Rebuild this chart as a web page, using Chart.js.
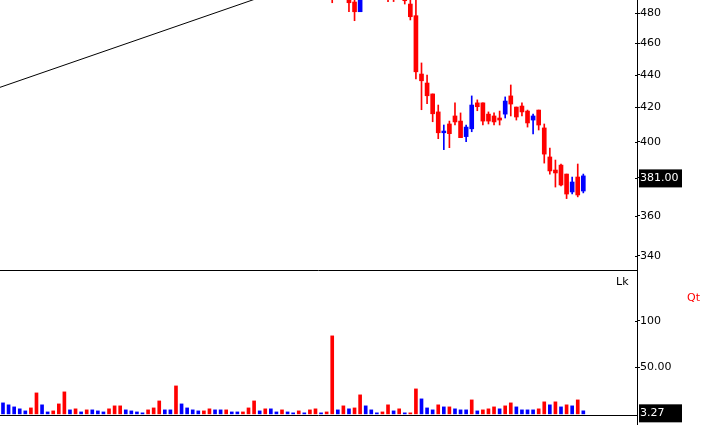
<!DOCTYPE html>
<html><head><meta charset="utf-8">
<script src="https://cdn.jsdelivr.net/npm/chart.js@4/dist/chart.umd.min.js"></script>
<style>
html,body{margin:0;padding:0;background:#fff;overflow:hidden}
#wrap{position:relative;width:727px;height:425px;background:#fff}
#pc{position:absolute;left:0;top:0}
#vc{position:absolute;left:0;top:271px}
</style></head><body>
<div id="wrap">
<canvas id="pc" width="727" height="271"></canvas>
<canvas id="vc" width="727" height="154"></canvas>
</div>
<script>
// ---- data ----
const bars = [1,2,3,4,5,6,7,8,9,10,11,12,13,14,15,16,17,18,19,20,21,22,23,24,25,26,27,28,29,30,
31,32,33,34,35,36,37,38,39,40,41,42,43,44,45,46,47,48,49,50,51,52,53,54,55,56,57,58,59,60,
61,62,63,64,65,66,67,68,69,70,71,72,73,74,75,76,77,78,79,80,81,82,83,84,85,86,87,88,89,90,
91,92,93,94,95,96,97,98,99,100,101,102,103,104,105];

// bars 1-59 lie above the visible price range (not drawn in the reference)
const openP = [null,null,null,null,null,null,null,null,null,null,null,null,null,null,null,null,null,null,null,null,
null,null,null,null,null,null,null,null,null,null,null,null,null,null,null,null,null,null,null,null,
null,null,null,null,null,null,null,null,null,null,null,null,null,null,null,null,null,null,null,
497,null,null,492,487.9,481.2,null,null,null,null,495,494,null,492,486.5,478.5,440.4,434.8,428.1,417.3,
405.1,410.2,414.9,411.9,402.9,407.4,422.7,422.7,416.0,414.9,413.7,416.0,426.9,420.2,420.8,417.8,412.5,418.4,
407.9,391.4,384.2,386.9,382.0,372.4,380.4,372.9];
const highP = [null,null,null,null,null,null,null,null,null,null,null,null,null,null,null,null,null,null,null,null,
null,null,null,null,null,null,null,null,null,null,null,null,null,null,null,null,null,null,null,null,
null,null,null,null,null,null,null,null,null,null,null,null,null,null,null,null,null,null,null,
499,null,null,494,491,495,null,null,null,null,497,496,null,494,491,490.5,447.4,439.8,428.1,421.4,
409.6,411.9,422.7,416.7,409.6,426.9,424.5,422.7,417.3,416.7,417.8,426.3,433.6,420.2,422.7,418.4,416.0,418.4,
410.2,396.4,389.7,387.5,382.0,380.4,387.5,382.0];
const lowP = [null,null,null,null,null,null,null,null,null,null,null,null,null,null,null,null,null,null,null,null,
null,null,null,null,null,null,null,null,null,null,null,null,null,null,null,null,null,null,null,null,
null,null,null,null,null,null,null,null,null,null,null,null,null,null,null,null,null,null,null,
487.4,null,null,481.2,475.1,481.2,null,null,null,null,488.2,488.2,null,486.5,475.6,437.3,418.6,422.2,411.5,401.7,
395.5,396.6,409.6,402.3,400.0,405.7,418.0,409.6,410.2,409.6,409.6,413.7,414.9,412.5,414.9,408.4,404.4,406.7,
388.0,382.0,375.0,375.6,368.9,371.3,369.8,371.9];
const closeP = [null,null,null,null,null,null,null,null,null,null,null,null,null,null,null,null,null,null,null,null,
null,null,null,null,null,null,null,null,null,null,null,null,null,null,null,null,null,null,null,null,
null,null,null,null,null,null,null,null,null,null,null,null,null,null,null,null,null,null,null,
491,null,null,487.4,481.2,493,null,null,null,null,491,490,null,488.8,477.8,441.8,436.2,427.0,416.2,405.1,
406.1,404.6,411.4,402.3,408.4,421.4,420.4,411.9,411.9,411.4,412.5,423.8,422.0,414.3,417.3,410.8,414.9,409.6,
393.0,383.7,382.6,376.1,371.3,377.7,370.8,381.0];

const volume = [11.8,9.7,7.5,5.4,3.2,6.4,22.5,9.7,2.1,3.2, 10.7,23.6,4.3,5.4,2.1,4.3,4.3,3.2,2.1,5.4,
8.6,8.6,4.3,3.2,2.1,1.1,4.3,6.4,13.9,4.3, 4.3,30.0,10.7,6.4,4.3,3.2,3.2,5.4,4.3,4.3,
4.3,2.1,2.1,2.1,6.4,13.9,3.2,5.4,5.4,2.1, 4.3,2.1,1.1,3.2,1.1,4.3,5.4,1.1,2.1,83.7,
4.3,8.6,5.4,6.4,20.4,8.6,4.3,1.1,2.1,9.7, 3.2,5.4,1.1,1.1,26.8,16.1,6.4,4.3,9.7,7.5,
7.5,5.4,4.3,4.3,15.0,3.2,4.3,5.4,7.5,5.4, 8.6,11.8,7.5,4.3,4.3,4.3,5.4,12.9,9.7,12.9,
7.5,9.7,8.6,15.0,3.27];
const volDir = ['U','U','U','U','U','D','D','U','U','D', 'D','D','U','D','U','D','U','U','U','D',
'D','D','U','U','U','U','D','D','D','U', 'U','D','U','U','U','U','D','D','U','U',
'D','U','U','D','D','D','U','D','U','U', 'D','U','U','D','U','D','D','U','D','D',
'U','D','U','D','D','U','U','U','D','D', 'U','D','U','D','D','U','U','U','D','U',
'D','U','U','U','D','U','D','D','D','U', 'D','D','U','U','U','U','D','D','U','D',
'U','D','U','D','U'];

const trendLine = [{x:0, y:431.6}, {x:50, y:495.1}];
const priceTicks = [340,360,380,400,420,440,460,480];
const volTicks = [50,100];
const volTickLabels = ['50.00','100'];
const priceLabel = 'Lk';
const volLabel = 'Qt';

// ---- styling / setup ----
const UP = '#0000ff', DOWN = '#ff0000';
const FONT = 'DejaVu Sans';
Chart.defaults.font.family = FONT;
Chart.defaults.font.size = 11;
Chart.defaults.animation = false;

const xCfg = {type:'linear', display:false, min:0.4624, max:114.62, bounds:'data', offset:false};

const candleColor = bars.map((b,i)=> (closeP[i]!==null && closeP[i] >= openP[i]) ? UP : DOWN);
const wickData = bars.map((b,i)=> ({x:b, y: lowP[i]===null ? null : [lowP[i], highP[i]]}));
const bodyData = bars.map((b,i)=> ({x:b, y: openP[i]===null ? null : [openP[i], closeP[i]]}));

function lastIdx(arr){ for(let i=arr.length-1;i>=0;i--) if(arr[i]!==null) return i; return -1; }

function innerTicks(chart){
  const {ctx, chartArea} = chart;
  const y = chart.scales.y;
  ctx.beginPath();
  y.ticks.forEach(t => {
    const p = Math.round(y.getPixelForValue(t.value)) + 0.5;
    ctx.moveTo(chartArea.right - 2, p);
    ctx.lineTo(chartArea.right, p);
  });
  ctx.stroke();
}

function valueBox(chart, v){
  const {ctx, chartArea} = chart;
  const yp = chart.scales.y.getPixelForValue(v);
  ctx.fillStyle = '#000';
  ctx.fillRect(chartArea.right + 2, yp - 6.5, 43, 18);
  ctx.fillStyle = '#fff';
  ctx.font = '11px "' + FONT + '"';
  ctx.textBaseline = 'middle';
  ctx.fillText(v.toFixed(2), chartArea.right + 3, yp + 2.5);
}

const pricePlugin = {
  id:'pricePlugin',
  afterDraw(chart){
    const {ctx, chartArea} = chart;
    ctx.save();
    ctx.strokeStyle = '#000'; ctx.lineWidth = 1;
    ctx.beginPath();
    ctx.moveTo(0, chartArea.bottom - 0.5);
    ctx.lineTo(chartArea.right, chartArea.bottom - 0.5);
    ctx.stroke();
    innerTicks(chart);
    valueBox(chart, closeP[lastIdx(closeP)]);
    ctx.restore();
  }
};

const volPlugin = {
  id:'volPlugin',
  afterDraw(chart){
    const {ctx, chartArea} = chart;
    ctx.save();
    ctx.strokeStyle = '#000'; ctx.lineWidth = 1;
    ctx.beginPath();
    ctx.moveTo(0, chartArea.bottom + 0.5);
    ctx.lineTo(chartArea.right, chartArea.bottom + 0.5);
    ctx.moveTo(chartArea.right + 0.5, chartArea.bottom);
    ctx.lineTo(chartArea.right + 0.5, chart.height);
    ctx.stroke();
    innerTicks(chart);
    valueBox(chart, volume[volume.length - 1]);
    ctx.textBaseline = 'alphabetic';
    ctx.fillStyle = '#000';
    ctx.font = '11px "' + FONT + '"';
    ctx.fillText(priceLabel, chartArea.right - 21, chartArea.top + 14);
    ctx.fillStyle = '#ff0000';
    ctx.fillText(volLabel, chartArea.right + 50, chartArea.top + 30);
    ctx.restore();
  }
};

const yAxisCommon = {
  position:'right',
  bounds:'data',
  afterFit: s => { s.width = 90; s.paddingTop = 0; s.paddingBottom = 0; },
  grid:{drawOnChartArea:false, drawTicks:true, tickLength:3, color:'#000'},
  border:{display:true, color:'#000', width:1},
};

new Chart(document.getElementById('pc'), {
  type:'bar',
  data:{ datasets:[
    {type:'line', data:trendLine, borderColor:'#000', borderWidth:1, pointRadius:0, tension:0, order:0},
    {data:wickData, backgroundColor:candleColor, barThickness:1, grouped:false, order:2, clip:0},
    {data:bodyData, backgroundColor:candleColor, barThickness:4, grouped:false, minBarLength:1, order:1, clip:0},
  ]},
  options:{
    responsive:false,
    layout:{padding:0},
    plugins:{legend:{display:false}, tooltip:{enabled:false}},
    scales:{
      x: xCfg,
      y: Object.assign({}, yAxisCommon, {
        type:'logarithmic', min:332.8, max:489.3,
        afterBuildTicks: s => { s.ticks = priceTicks.map(v => ({value:v})); },
        ticks:{color:'#000', padding:0, autoSkip:false, font:{family:FONT, size:11}, callback: v => String(v)}
      })
    }
  },
  plugins:[pricePlugin]
});

new Chart(document.getElementById('vc'), {
  type:'bar',
  data:{ datasets:[
    {data: bars.map((b,i)=>({x:b, y:volume[i]})), backgroundColor: volDir.map(d => d==='U' ? UP : DOWN),
     barThickness:3, grouped:false, clip:0}
  ]},
  options:{
    responsive:false,
    layout:{padding:{top:0, bottom:10, left:0, right:0}},
    plugins:{legend:{display:false}, tooltip:{enabled:false}},
    scales:{
      x: xCfg,
      y: Object.assign({}, yAxisCommon, {
        type:'linear', min:-1.2, max:153.3,
        afterBuildTicks: s => { s.ticks = volTicks.map(v => ({value:v})); },
        ticks:{color:'#000', padding:0, autoSkip:false, font:{family:FONT, size:11},
               callback: v => { const k = volTicks.indexOf(v); return k >= 0 ? volTickLabels[k] : ''; }}
      })
    }
  },
  plugins:[volPlugin]
});
</script>
</body></html>
